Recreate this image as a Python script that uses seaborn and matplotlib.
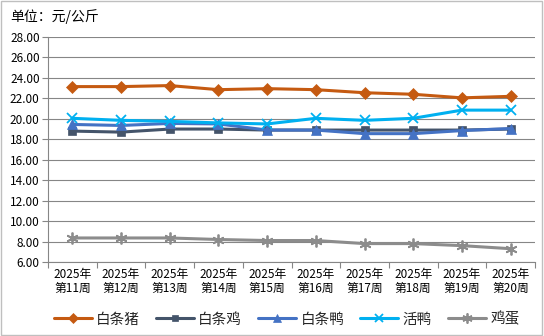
import matplotlib
matplotlib.use("Agg")
import matplotlib.pyplot as plt
import seaborn as sns
import pandas as pd
from matplotlib.patches import Rectangle

sns.set_theme(style="white")
plt.rcParams['font.family'] = ['Noto Sans CJK SC', 'DejaVu Sans']

weeks = ["2025年\n第11周", "2025年\n第12周", "2025年\n第13周", "2025年\n第14周", "2025年\n第15周",
         "2025年\n第16周", "2025年\n第17周", "2025年\n第18周", "2025年\n第19周", "2025年\n第20周"]
pork = [23.15, 23.15, 23.25, 22.85, 22.95, 22.85, 22.55, 22.4, 22.05, 22.2]
chicken = [18.8, 18.7, 19.0, 19.0, 18.9, 18.9, 18.9, 18.9, 18.9, 19.0]
duck = [19.45, 19.35, 19.55, 19.5, 18.9, 18.9, 18.55, 18.55, 18.85, 19.05]
live_duck = [20.05, 19.85, 19.75, 19.6, 19.5, 20.05, 19.85, 20.05, 20.85, 20.85]
egg = [8.35, 8.35, 8.35, 8.2, 8.1, 8.1, 7.8, 7.8, 7.6, 7.3]
yticks = [6, 8, 10, 12, 14, 16, 18, 20, 22, 24, 26, 28]

series = [
    ("白条猪", pork, "#C55A11", "D", 6),
    ("白条鸡", chicken, "#44546A", "s", 5.5),
    ("白条鸭", duck, "#4472C4", "^", 7),
    ("活鸭", live_duck, "#00B0F0", "x", 7.5),
    ("鸡蛋", egg, "#8C8C8C", (6, 2, 0), 8.5),
]

fig = plt.figure(figsize=(5.44, 3.36), dpi=100)
ax = fig.add_axes([48/544, 1-262/336, (535-48)/544, (262-37)/336])

xs = list(range(len(weeks)))
for name, vals, color, marker, ms in series:
    df = pd.DataFrame({"x": xs, "y": vals})
    sns.lineplot(data=df, x="x", y="y", ax=ax, color=color, marker=marker,
                 markersize=ms, linewidth=2.2, label=name,
                 markeredgecolor=color, markeredgewidth=1.3 if marker in ("x", (6, 2, 0)) else 0.5)

ax.set_xlim(-0.5, 9.5)
ax.set_ylim(6, 28)
ax.set_yticks(yticks)
ax.set_yticklabels([f"{v:.2f}" for v in yticks], fontsize=8.5, color="#000000")
ax.set_xticks([i + 0.5 for i in range(-1, 10)])
ax.set_xticklabels([])
ax.set_xticks(xs, minor=True)
ax.set_xticklabels(weeks, minor=True, fontsize=8.5, color="#000000", linespacing=1.15)
ax.tick_params(axis="x", which="major", length=4, color="#868686", width=0.8, direction="out", bottom=True)
ax.tick_params(axis="x", which="minor", length=0, pad=4)
ax.tick_params(axis="y", length=4, color="#868686", width=0.8, direction="out", left=True, pad=2)
ax.set_xlabel("")
ax.set_ylabel("")
ax.grid(axis="y", color="#868686", linewidth=0.8)
ax.set_axisbelow(True)
for s in ["top", "right"]:
    ax.spines[s].set_visible(False)
for s in ["left", "bottom"]:
    ax.spines[s].set_color("#868686")
    ax.spines[s].set_linewidth(0.8)

handles, labels = ax.get_legend_handles_labels()
ax.legend(handles, labels, loc="center", bbox_to_anchor=(0.5 - 0.01, -0.255), ncol=5, frameon=False,
          fontsize=10.5, handlelength=2.6, columnspacing=1.1, handletextpad=0.3,
          markerscale=0.85, bbox_transform=ax.transAxes)

fig.text(10/544, 1-17/336, "单位：元/公斤", fontsize=10, va="center", ha="left", color="#000000")
fig.patches.append(Rectangle((0.002, 0.003), 0.995, 0.994, transform=fig.transFigure,
                             fill=False, edgecolor="#BFBFBF", linewidth=1))

fig.savefig("out.png", dpi=100)
